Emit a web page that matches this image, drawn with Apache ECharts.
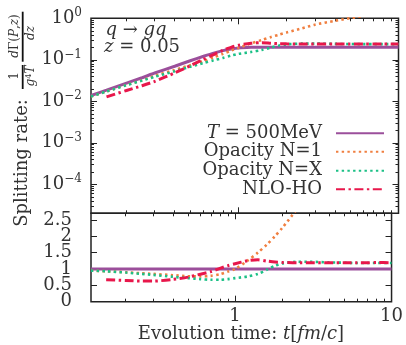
<!DOCTYPE html>
<html><head><meta charset="utf-8">
<script src="https://cdn.jsdelivr.net/npm/echarts@6/dist/echarts.min.js"></script>
<style>html,body{margin:0;padding:0;background:#fff}#c{width:406px;height:345px}</style>
</head><body><div id="c"></div>
<script>
// ---- data ----
const times = [0.12, 0.15, 0.2, 0.25, 0.3, 0.4, 0.5, 0.6, 0.7, 0.8, 0.9, 1.0, 1.2, 1.4, 1.6, 1.8, 2.0, 2.5, 3, 4, 5, 6, 7, 8, 10];
const rateT500 = [0.0138, 0.0186, 0.0275, 0.037, 0.048, 0.070, 0.095, 0.12, 0.145, 0.166, 0.182, 0.193, 0.2, 0.202, 0.202, 0.202, 0.202, 0.202, 0.202, 0.202, 0.202, 0.202, 0.202, 0.202, 0.202];
const rateN1 = [0.0131, 0.0173, 0.0248, 0.032, 0.041, 0.057, 0.074, 0.092, 0.115, 0.139, 0.167, 0.193, 0.25, 0.30, 0.354, 0.404, 0.455, 0.575, 0.70, 0.87, 1.01, 1.13, 1.24, 1.34, 1.5];
const rateNX = [0.0131, 0.0173, 0.0245, 0.0315, 0.039, 0.053, 0.068, 0.083, 0.097, 0.111, 0.126, 0.139, 0.154, 0.172, 0.198, 0.222, 0.236, 0.246, 0.246, 0.242, 0.24, 0.238, 0.238, 0.238, 0.238];
const rateNLO = [null, 0.0128, 0.0182, 0.0237, 0.0302, 0.0483, 0.072, 0.101, 0.133, 0.169, 0.2, 0.224, 0.25, 0.259, 0.25, 0.244, 0.242, 0.24, 0.24, 0.241, 0.24, 0.24, 0.24, 0.241, 0.24];
const ratioT500 = [1, 1, 1, 1, 1, 1, 1, 1, 1, 1, 1, 1, 1, 1, 1, 1, 1, 1, 1, 1, 1, 1, 1, 1, 1];
const ratioN1 = [0.95, 0.93, 0.9, 0.87, 0.85, 0.81, 0.78, 0.77, 0.79, 0.84, 0.92, 1.0, 1.25, 1.5, 1.75, 2.0, 2.25, 2.85, 3.45, 4.3, 5.0, 5.6, 6.1, 6.6, 7.4];
const ratioNX = [0.95, 0.93, 0.89, 0.85, 0.82, 0.76, 0.72, 0.69, 0.67, 0.67, 0.69, 0.72, 0.77, 0.85, 0.98, 1.1, 1.17, 1.22, 1.22, 1.2, 1.19, 1.18, 1.18, 1.18, 1.18];
const ratioNLO = [null, 0.67, 0.65, 0.63, 0.63, 0.68, 0.75, 0.84, 0.92, 1.02, 1.1, 1.16, 1.25, 1.28, 1.24, 1.21, 1.2, 1.19, 1.19, 1.19, 1.19, 1.19, 1.19, 1.2, 1.19];
const seriesNames = ['T = 500MeV', 'Opacity N=1', 'Opacity N=X', 'NLO-HO'];
const xMajorTicks = [1, 10];
const xMinorTicks = [0.2, 0.3, 0.4, 0.5, 0.6, 0.7, 0.8, 0.9, 2, 3, 4, 5, 6, 7, 8, 9];
const yTopMajorTicks = [1e-4, 1e-3, 1e-2, 1e-1, 1];
const yTopMinorTicks = [];
for (let e = -5; e <= -1; e++) for (let k = 2; k <= 9; k++) { const v = k * Math.pow(10, e); if (v > 2.05e-5) yTopMinorTicks.push(v); }
const yBotTicks = [0, 0.5, 1, 1.5, 2, 2.5];
const yBotLabelsA = [0, 1, 2];
const yBotLabelsB = [0.5, 1.5, 2.5];

// ---- styling ----
const FF = 'DejaVu Serif';
const TC = '#333';
const colors = ['#9b4f9b', '#f07f40', '#1cc086', '#e8174b'];
const lineStyles = [
  { width: 3, type: 'solid' },
  { width: 2.6, type: [2.4, 3.3], cap: 'butt' },
  { width: 2.6, type: [2.4, 3.3], cap: 'butt' },
  { width: 3, type: [9, 3.5, 2.4, 3.5], cap: 'butt' }
];
const pairs = arr => times.map((t, i) => [t, arr[i]]);

const G0 = { left: 91, top: 18.3, width: 307.5, height: 195 };
const G1 = { left: 91, top: 213.3, width: 307.5, height: 88.4 };
const gridBase = { show: true, borderColor: '#222', borderWidth: 1.5, backgroundColor: 'transparent', containLabel: false };

function xAx(gi, pos, ticks, len, labels) {
  return {
    type: 'log', gridIndex: gi, position: pos, min: 0.12, max: 10, logBase: 10,
    axisLine: { show: false, onZero: false },
    axisTick: { show: true, inside: true, length: len, customValues: ticks, lineStyle: { color: '#222', width: 1 } },
    axisLabel: labels ? { show: true, customValues: [1, 10], formatter: v => String(Math.round(v)), margin: 6, fontFamily: FF, fontSize: 18, color: TC, hideOverlap: false } : { show: false },
    splitLine: { show: false }, minorTick: { show: false }
  };
}
function yTop(pos, ticks, len, labels) {
  return {
    type: 'log', gridIndex: 0, position: pos, min: 2e-5, max: 1, logBase: 10,
    axisLine: { show: false, onZero: false },
    axisTick: { show: true, inside: true, length: len, customValues: ticks, lineStyle: { color: '#222', width: 1 } },
    axisLabel: labels ? {
      show: true, customValues: yTopMajorTicks, margin: 9, hideOverlap: false,
      formatter: v => { const e = Math.round(Math.log10(v)); return '{b|10}{s|' + (e < 0 ? '\u2212' + (-e) : String(e)) + '}'; },
      rich: {
        b: { fontFamily: FF, fontSize: 18, color: TC, lineHeight: 22 },
        s: { fontFamily: FF, fontSize: 12, color: TC, lineHeight: 12, verticalAlign: 'top' }
      }
    } : { show: false },
    splitLine: { show: false }
  };
}
function yBot(pos, ticks, labels) {
  return {
    type: 'value', gridIndex: 1, position: pos, min: 0, max: 2.7,
    axisLine: { show: false, onZero: false },
    axisTick: ticks ? { show: true, inside: true, length: 6, customValues: yBotTicks, lineStyle: { color: '#222', width: 1 } } : { show: false },
    axisLabel: labels ? { show: true, customValues: labels, margin: 19, fontFamily: FF, fontSize: 18, color: TC, hideOverlap: false } : { show: false },
    splitLine: { show: false }
  };
}

const series = [];
[rateT500, rateN1, rateNX, rateNLO].forEach((arr, i) => series.push({
  name: seriesNames[i], type: 'line', xAxisIndex: 0, yAxisIndex: 0, data: pairs(arr),
  symbol: 'none', smooth: 0.25, connectNulls: false, color: colors[i],
  lineStyle: Object.assign({ color: colors[i] }, lineStyles[i]), z: 2 + i
}));
[ratioT500, ratioN1, ratioNX, ratioNLO].forEach((arr, i) => series.push({
  name: seriesNames[i], type: 'line', xAxisIndex: 4, yAxisIndex: 4, data: pairs(arr),
  symbol: 'none', smooth: 0.25, connectNulls: false, color: colors[i],
  lineStyle: Object.assign({ color: colors[i] }, lineStyles[i]), z: 2 + i
}));

const legendRows = [133.3, 151.7, 170.7, 189.3];
const legends = seriesNames.map((n, i) => ({
  data: [n], right: 21, top: legendRows[i] - 9, orient: 'horizontal', align: 'right',
  itemWidth: 48, itemHeight: 12, padding: 0, itemGap: 0, selectedMode: false,
  itemStyle: { opacity: 0 },
  formatter: name => name.startsWith('T =') ? '{i|T}{r| = 500MeV}' : '{r|' + name + '}',
  textStyle: {
    fontFamily: FF, fontSize: 18, color: TC, lineHeight: 18, padding: [0, 9, 0, 0],
    rich: {
      i: { fontFamily: FF, fontSize: 18, fontStyle: 'italic', color: TC, lineHeight: 18 },
      r: { fontFamily: FF, fontSize: 18, color: TC, lineHeight: 18 }
    }
  }
}));

const rot = Math.PI / 2;
const txt = (x, y, text, size, rich, rotation) => ({
  type: 'text', x, y, rotation: rotation || 0, silent: true,
  style: { text, fontFamily: FF, fontSize: size, fill: TC, align: 'center', verticalAlign: 'middle', rich }
});
const richS = size => ({
  r: { fontFamily: FF, fontSize: size, fill: TC, color: TC },
  i: { fontFamily: FF, fontSize: size, fontStyle: 'italic', fill: TC, color: TC },
  sup: { fontFamily: FF, fontSize: Math.round(size * 0.7), fill: TC, color: TC, verticalAlign: 'top', lineHeight: Math.round(size * 0.7) }
});

const option = {
  animation: false,
  grid: [Object.assign({}, gridBase, G0), Object.assign({}, gridBase, G1)],
  xAxis: [
    xAx(0, 'bottom', xMajorTicks, 6, false), xAx(0, 'top', xMajorTicks, 6, false),
    xAx(0, 'bottom', xMinorTicks, 3, false), xAx(0, 'top', xMinorTicks, 3, false),
    xAx(1, 'bottom', xMajorTicks, 6, true), xAx(1, 'top', xMajorTicks, 6, false),
    xAx(1, 'bottom', xMinorTicks, 3, false), xAx(1, 'top', xMinorTicks, 3, false)
  ],
  yAxis: [
    yTop('left', yTopMajorTicks, 6, true), yTop('right', yTopMajorTicks, 6, false),
    yTop('left', yTopMinorTicks, 3, false), yTop('right', yTopMinorTicks, 3, false),
    yBot('left', true, yBotLabelsA), yBot('right', true, null), yBot('left', false, yBotLabelsB)
  ],
  legend: legends,
  series,
  graphic: [
    txt(136, 30, '{i|q}{r| \u2192 }{i|gq}', 18, richS(18)),
    txt(142, 47, '{i|z}{r| = 0.05}', 18, richS(18)),
    txt(241, 334, '{r|Evolution time: }{i|t}{r|[}{i|fm}{r|/}{i|c}{r|]}', 18, richS(18)),
    txt(22, 163, 'Splitting rate:', 18, null, rot),
    txt(15, 76, '1', 12, null, rot),
    txt(31, 76, '{i|g}{sup|4}{i|T}', 12, richS(12), rot),
    txt(15, 36, '{i|d}{r|\u0393(}{i|P}{r|,}{i|z}{r|)}', 12, richS(12), rot),
    txt(31, 33, '{i|dz}', 12, richS(12), rot),
    { type: 'rect', silent: true, shape: { x: 21.8, y: 11.7, width: 1.8, height: 50 }, style: { fill: '#111' } },
    { type: 'rect', silent: true, shape: { x: 21.8, y: 65, width: 1.8, height: 24 }, style: { fill: '#111' } }
  ]
};
echarts.init(document.getElementById('c')).setOption(option);
</script></body></html>
